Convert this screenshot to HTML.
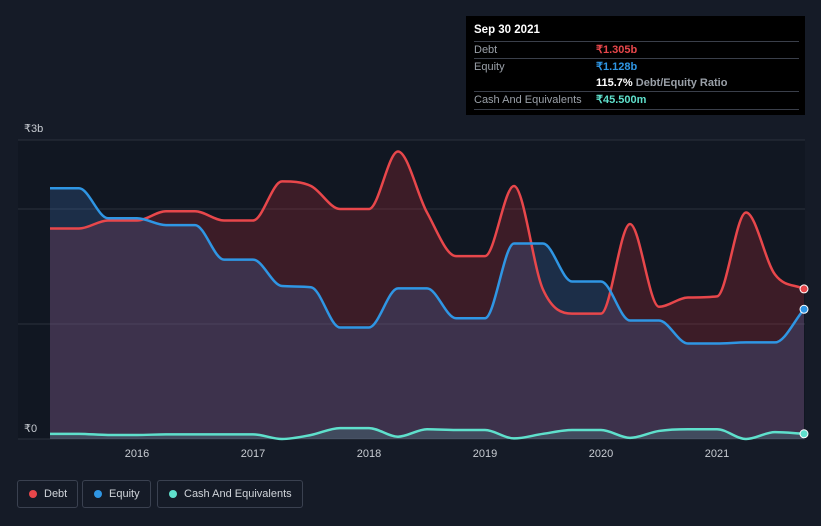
<!DOCTYPE html>
<html><head><meta charset="utf-8"><style>
body{margin:0;width:821px;height:526px;background:#151b27;font-family:"Liberation Sans",sans-serif;overflow:hidden;position:relative}
#tip{position:absolute;left:466px;top:16px;width:339px;height:99px;background:#000;color:#fff;font-size:11px}
.row{position:absolute;left:8px;width:325px;border-top:1px solid #3a3f4a;height:17px;line-height:17px;color:#9aa0a8}
.row span{position:absolute;left:122px;font-weight:bold}
.legend{position:absolute;top:480px;height:26px;border:1px solid #3a4150;border-radius:3px;color:#d0d4da;font-size:11px;line-height:26px;padding:0 10px 0 26px}
.legend i{position:absolute;left:11px;top:9px;width:8px;height:8px;border-radius:50%}
</style></head><body>
<svg id="chart" width="821" height="526" style="position:absolute;left:0;top:0"></svg>
<div id="tip">
<div style="position:absolute;left:8px;top:8px;font-weight:bold;font-size:11.5px">Sep 30 2021</div>
<div class="row" style="top:25px">Debt<span style="color:#e8474b">₹1.305b</span></div>
<div class="row" style="top:42px">Equity<span style="color:#2f96e4">₹1.128b</span></div>
<div class="row" style="top:59px;border-top:none"><span style="color:#fff">115.7% <b style="color:#9aa0a8">Debt/Equity Ratio</b></span></div>
<div class="row" style="top:75px;border-bottom:1px solid #3a3f4a">Cash And Equivalents<span style="color:#5fe0cc">₹45.500m</span></div>
</div>
<div class="legend" style="left:17px"><i style="background:#e8474b"></i>Debt</div>
<div class="legend" style="left:82px"><i style="background:#2f96e4"></i>Equity</div>
<div class="legend" style="left:157px"><i style="background:#5fe0cc"></i>Cash And Equivalents</div>
<script>
const times=[];for(let i=0;i<27;i++)times.push(2015.25+i*0.25);
const debt=[1.83,1.83,1.9,1.9,1.98,1.98,1.9,1.9,2.24,2.2,2.0,2.0,2.5,1.97,1.59,1.59,2.2,1.3,1.09,1.09,1.87,1.15,1.23,1.24,1.97,1.43,1.305];
const equity=[2.18,2.18,1.92,1.92,1.86,1.86,1.56,1.56,1.33,1.32,0.97,0.97,1.31,1.31,1.05,1.05,1.7,1.7,1.37,1.37,1.03,1.03,0.83,0.83,0.84,0.84,1.128];
const cash=[0.045,0.045,0.035,0.035,0.04,0.04,0.04,0.04,0.0,0.035,0.095,0.095,0.02,0.085,0.078,0.078,0.005,0.045,0.078,0.078,0.01,0.07,0.085,0.085,0.0,0.06,0.0455];
const yearTicks=[2016,2017,2018,2019,2020,2021];
const X=t=>137+(t-2016)*116, Y=v=>439-v*115;
const svg=document.getElementById('chart');const NS='http://www.w3.org/2000/svg';
function mk(tag,a,name){const e=document.createElementNS(NS,tag);for(const k in a)e.setAttribute(k,a[k]);


svg.appendChild(e);return e;}
function path(vals){const p=vals.map((v,i)=>[X(times[i]),Y(v)]);const n=p.length,m=[],d=[];
for(let i=0;i<n-1;i++)d.push((p[i+1][1]-p[i][1])/(p[i+1][0]-p[i][0]));
for(let i=0;i<n;i++){if(i==0)m.push(d[0]);else if(i==n-1)m.push(d[n-2]);else m.push(d[i-1]*d[i]<=0?0:(d[i-1]+d[i])/2);}
for(let i=0;i<n-1;i++){if(d[i]==0){m[i]=0;m[i+1]=0;continue;}const a=m[i]/d[i],b=m[i+1]/d[i],s=a*a+b*b;if(s>9){const t=3/Math.sqrt(s);m[i]=t*a*d[i];m[i+1]=t*b*d[i];}}
let s='M'+p[0][0]+','+p[0][1];for(let i=0;i<n-1;i++){const h=(p[i+1][0]-p[i][0])/3;s+=`C${p[i][0]+h},${p[i][1]+m[i]*h} ${p[i+1][0]-h},${p[i+1][1]-m[i+1]*h} ${p[i+1][0]},${p[i+1][1]}`;}return s;}
function area(vals){return path(vals)+`L${X(times[times.length-1])},${Y(0)}L${X(times[0])},${Y(0)}Z`;}
mk('rect',{x:18,y:140,width:787,height:299,fill:'#111722'},'plot-background');
[0,1,2].forEach(v=>mk('line',{x1:18,x2:805,y1:Y(v),y2:Y(v),stroke:'#2a303c','stroke-width':1},'gridline'));
mk('line',{x1:18,x2:805,y1:140,y2:140,stroke:'#2a303c'},'gridline-top');
const t3=mk('text',{x:24,y:132,fill:'#c8ccd2','font-size':11},'y-label-top');t3.textContent='₹3b';
const t0=mk('text',{x:24,y:432,fill:'#c8ccd2','font-size':11},'y-label-zero');t0.textContent='₹0';
yearTicks.forEach(y=>{const t=mk('text',{x:X(y),y:457,fill:'#c8ccd2','font-size':11,'text-anchor':'middle'},'x-tick-label');t.textContent=y;});
mk('path',{d:area(debt),fill:'rgba(190,45,55,0.25)'},'debt-area');
mk('path',{d:area(equity),fill:'rgba(70,130,210,0.22)'},'equity-area');
mk('path',{d:area(cash),fill:'rgba(95,224,204,0.15)'},'cash-area');
mk('path',{d:path(debt),fill:'none',stroke:'#e8474b','stroke-width':2.5},'debt-line');
mk('path',{d:path(equity),fill:'none',stroke:'#2f96e4','stroke-width':2.5},'equity-line');
mk('path',{d:path(cash),fill:'none',stroke:'#5fe0cc','stroke-width':2.5},'cash-line');
const L=times.length-1;
mk('circle',{cx:X(times[L]),cy:Y(debt[L]),r:4,fill:'#e8474b',stroke:'#fff','stroke-width':1},'debt-end-dot');
mk('circle',{cx:X(times[L]),cy:Y(equity[L]),r:4,fill:'#2f96e4',stroke:'#fff','stroke-width':1},'equity-end-dot');
mk('circle',{cx:X(times[L]),cy:Y(cash[L]),r:4,fill:'#5fe0cc',stroke:'#fff','stroke-width':1},'cash-end-dot');
</script>
</body></html>
